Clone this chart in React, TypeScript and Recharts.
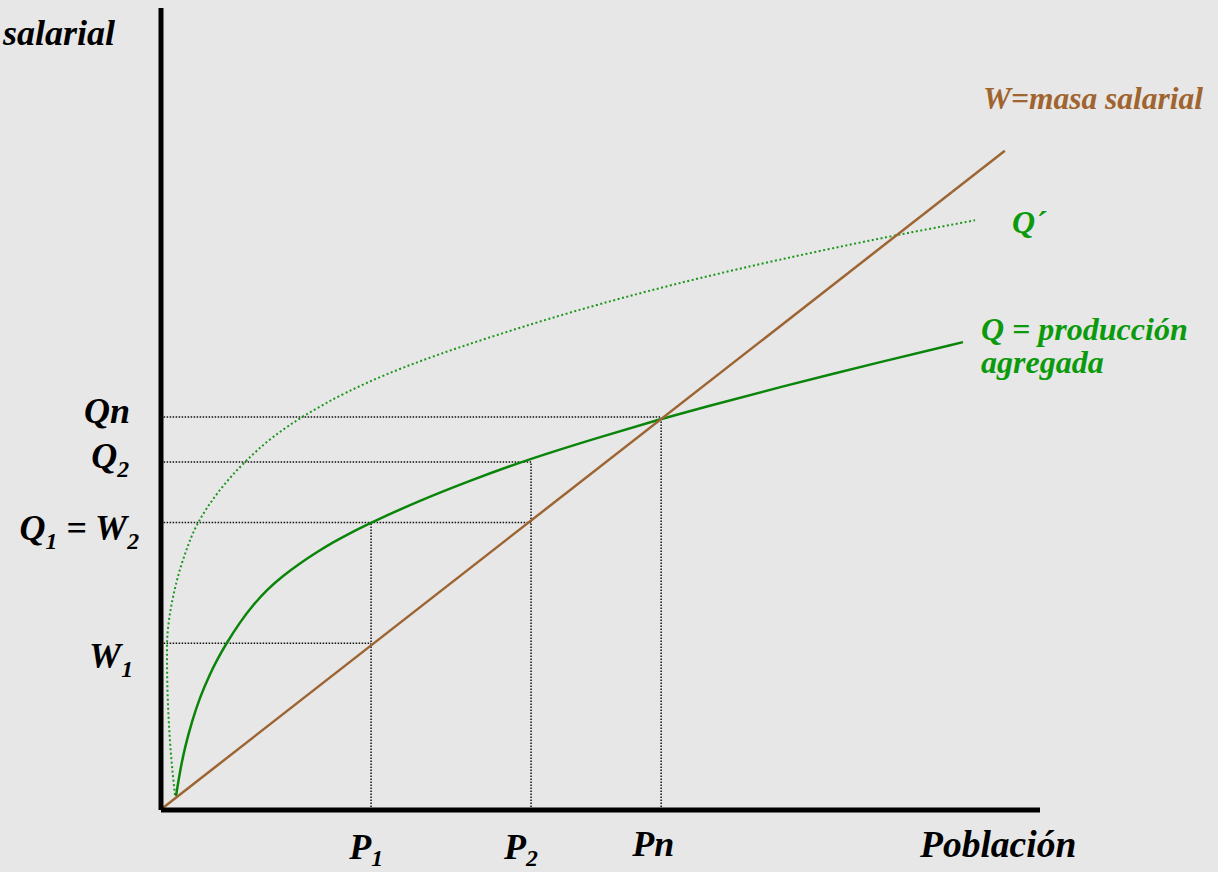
import React from 'react';
import { LineChart, Line, XAxis, YAxis, ReferenceLine } from 'recharts';

// curves (x = población, y = masa salarial / producción, 0..100)
const wX = [0.2, 96.0];
const wY = [0.25, 82.2];

const qX = [1.71, 2.16, 2.73, 3.53, 4.44, 5.57, 6.37, 7.39, 8.99, 10.47, 12.06, 13.88, 15.81, 17.75, 19.57, 21.5, 24.0, 29.47, 34.93, 40.84, 49.94, 56.99, 61.32, 70.42, 81.8, 91.24];
const qY = [1.75, 4.86, 7.86, 11.1, 14.09, 16.96, 18.7, 20.7, 23.44, 25.56, 27.48, 29.2, 30.77, 32.17, 33.37, 34.53, 35.9, 38.6, 40.96, 43.39, 46.51, 48.78, 50.1, 52.74, 55.86, 58.34];

const qpX = [1.59, 1.14, 0.85, 0.71, 0.68, 0.91, 1.37, 2.5, 4.21, 6.71, 9.56, 12.74, 16.38, 21.16, 25.71, 29.47, 38.57, 49.94, 61.32, 70.42, 83.5, 92.61];
const qpY = [1.87, 6.86, 11.85, 16.21, 20.32, 23.69, 26.56, 31.17, 35.79, 39.9, 43.39, 46.49, 49.21, 52.09, 54.34, 55.95, 59.34, 63.08, 66.32, 68.62, 71.63, 73.53];

// axis marks
const xTicks = [23.9, 42.1, 56.9];
const xTickLabels = ['P_1', 'P_2', 'Pn'];
const yTicks = [20.8, 35.85, 43.4, 49.0];
const yTickLabels = ['W_1', 'Q_1 = W_2', 'Q_2', 'Qn'];

// dotted guides (indices into the tick arrays)
const vGuides = [
  { xi: 0, yi: 1 },
  { xi: 1, yi: 2 },
  { xi: 2, yi: 3 },
];
const hGuides = [
  { yi: 0, xi: 0 },
  { yi: 1, xi: 1 },
  { yi: 2, xi: 1 },
  { yi: 3, xi: 2 },
];

const toPoints = (xs: number[], ys: number[]) => xs.map((x, i) => ({ x, y: ys[i] }));

const FONT = '"Liberation Serif", "Times New Roman", serif';
const BG = '#e7e7e7';
const BROWN = '#9c6532';
const GREEN_LINE = '#0a850a';
const GREEN_TEXT = '#0b9a0b';

function rich(label: string, size: number, shift: number) {
  const parts = label.split(/(_\w)/).filter((p) => p !== '');
  let down = false;
  return parts.map((p, i) => {
    if (p.startsWith('_')) {
      down = true;
      return (
        <tspan key={i} dy={shift} fontSize={size * 0.66}>
          {p.slice(1)}
        </tspan>
      );
    }
    const dy = down ? -shift : 0;
    down = false;
    return (
      <tspan key={i} dy={dy}>
        {p}
      </tspan>
    );
  });
}

const yAdjust = [
  { right: 133, dy: 25 },
  { right: 139, dy: 18 },
  { right: 129, dy: 6 },
  { right: 130, dy: 6 },
];

const YTick = (props: any) => {
  const i = yTicks.indexOf(props.payload.value);
  if (i < 0) return null;
  const a = yAdjust[i];
  return (
    <text x={a.right} y={props.y + a.dy} textAnchor="end" fontFamily={FONT} fontWeight="bold" fontStyle="italic" fontSize={36} fill="#000">
      {rich(yTickLabels[i], 36, 9)}
    </text>
  );
};

const xAdjust = [
  { dx: -5, base: 859 },
  { dx: -10, base: 859 },
  { dx: -8, base: 856 },
];

const XTick = (props: any) => {
  const i = xTicks.indexOf(props.payload.value);
  if (i < 0) return null;
  const a = xAdjust[i];
  return (
    <text x={props.x + a.dx} y={a.base} textAnchor="middle" fontFamily={FONT} fontWeight="bold" fontStyle="italic" fontSize={36} fill="#000">
      {rich(xTickLabels[i], 36, 7)}
    </text>
  );
};

const txt = { fontFamily: FONT, fontWeight: 'bold' as const, fontStyle: 'italic' as const };

export default function App() {
  return (
    <div style={{ position: 'absolute', left: 0, top: 0, width: 1218, height: 872, background: BG, overflow: 'hidden' }}>
      <LineChart width={1218} height={872} margin={{ top: 8, right: 178, bottom: 61, left: 160 }}>
        <XAxis
          type="number"
          dataKey="x"
          domain={[0, 100]}
          ticks={xTicks}
          interval={0}
          height={1}
          tickLine={false}
          axisLine={{ stroke: '#000', strokeWidth: 5 }}
          tick={<XTick />}
        />
        <YAxis
          type="number"
          dataKey="y"
          domain={[0, 100]}
          ticks={yTicks}
          interval={0}
          width={1}
          tickLine={false}
          axisLine={{ stroke: '#000', strokeWidth: 5 }}
          tick={<YTick />}
        />
        {hGuides.map((g, i) => (
          <ReferenceLine
            key={`h${i}`}
            segment={[
              { x: 0.3, y: yTicks[g.yi] },
              { x: xTicks[g.xi], y: yTicks[g.yi] },
            ]}
            stroke="#111"
            strokeWidth={1.5}
            strokeDasharray="1.5 1.5"
          />
        ))}
        {vGuides.map((g, i) => (
          <ReferenceLine
            key={`v${i}`}
            segment={[
              { x: xTicks[g.xi], y: 0 },
              { x: xTicks[g.xi], y: yTicks[g.yi] },
            ]}
            stroke="#111"
            strokeWidth={1.5}
            strokeDasharray="1.5 1.5"
          />
        ))}
        <Line
          data={toPoints(qpX, qpY)}
          dataKey="y"
          type="monotoneY"
          stroke="#1c961c"
          strokeWidth={2}
          strokeDasharray="2 2.5"
          dot={false}
          activeDot={false}
          isAnimationActive={false}
        />
        <Line
          data={toPoints(qX, qY)}
          dataKey="y"
          type="basis"
          stroke={GREEN_LINE}
          strokeWidth={2.5}
          dot={false}
          activeDot={false}
          isAnimationActive={false}
        />
        <Line
          data={toPoints(wX, wY)}
          dataKey="y"
          type="linear"
          stroke={BROWN}
          strokeWidth={2.5}
          dot={false}
          activeDot={false}
          isAnimationActive={false}
        />
      </LineChart>
      <svg width={1218} height={872} style={{ position: 'absolute', left: 0, top: 0, pointerEvents: 'none' }}>
        <text x={3} y={45} fontSize={36} fill="#000" {...txt}>salarial</text>
        <text x={920} y={857} fontSize={37.5} fill="#000" {...txt}>Población</text>
        <text x={983} y={109} fontSize={31.5} fill="#a0642f" {...txt}>W=masa salarial</text>
        <text x={1012} y={233} fontSize={32} fill={GREEN_TEXT} {...txt}>Q´</text>
        <text x={981} y={340} fontSize={32} fill={GREEN_TEXT} {...txt}>Q = producción</text>
        <text x={981} y={373} fontSize={32} fill={GREEN_TEXT} {...txt}>agregada</text>
      </svg>
    </div>
  );
}
